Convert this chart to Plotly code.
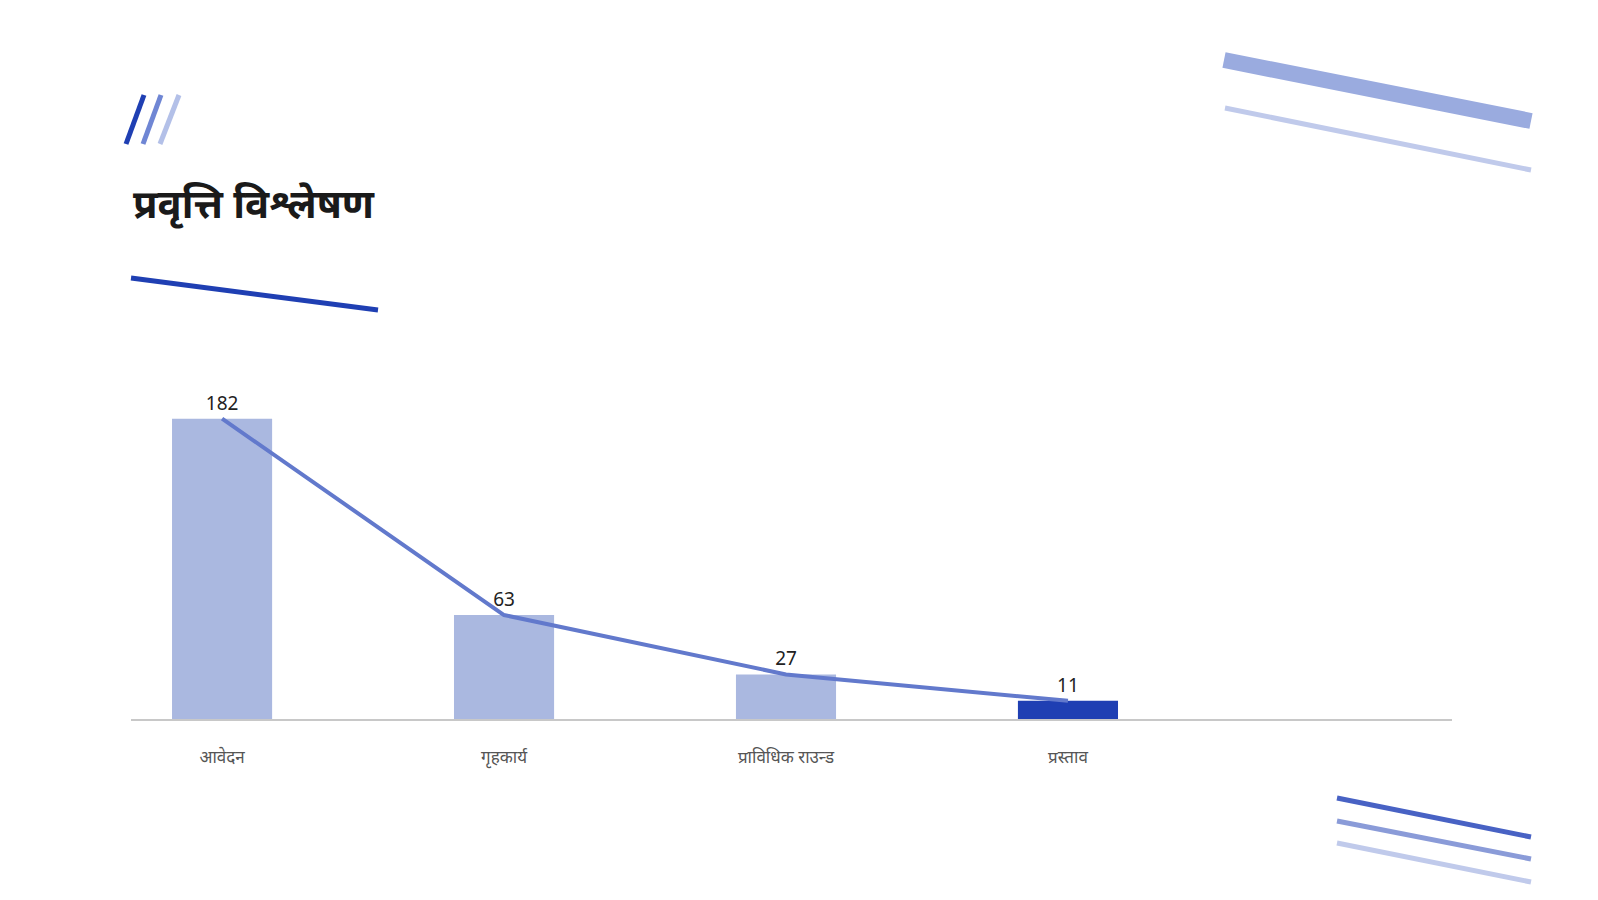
import plotly.graph_objects as go

categories = ["आवेदन", "गृहकार्य", "प्राविधिक राउन्ड", "प्रस्ताव"]
values = [182, 63, 27, 11]
bar_colors = ["#aab8e0", "#aab8e0", "#aab8e0", "#1f3fb3"]

W, H = 1598, 900
L, R, T, B = 123, 1444, 381, 711  # plot area in pixels


def px(x, y):
    return (x - L) / (R - L), (B - y) / (B - T)


fig = go.Figure()
fig.add_trace(go.Bar(
    x=categories, y=values, width=0.355,
    marker=dict(color=bar_colors, line=dict(width=0)),
    text=[str(v) for v in values], textposition="outside",
    textfont=dict(family="Noto Sans", size=19, color="#222222"),
    cliponaxis=False, showlegend=False, hoverinfo="skip",
))
fig.add_trace(go.Scatter(
    x=categories, y=values, mode="lines",
    line=dict(color="#6279cc", width=4), showlegend=False,
))

# decorative strokes (pixel coords -> paper)
strokes = [
    ((118, 136), (136, 87), "#1f3fb3", 5),
    ((135, 136), (153, 87), "#6f86d4", 5),
    ((152, 136), (171, 87), "#b3c0e8", 5),
    ((123, 270), (370, 302), "#1f3fb3", 5),
    ((1216, 52), (1523, 113), "#9aabdf", 16),
    ((1217, 100), (1523, 162), "#c0caeb", 5),
    ((1329, 790), (1523, 829), "#4862c4", 5),
    ((1329, 813), (1523, 851), "#8a9bd8", 5),
    ((1329, 835), (1523, 874), "#c0caeb", 5),
]
for (x0, y0), (x1, y1), c, w in strokes:
    a0, b0 = px(x0, y0)
    a1, b1 = px(x1, y1)
    fig.add_shape(type="line", xref="paper", yref="paper",
                  x0=a0, y0=b0, x1=a1, y1=b1, line=dict(color=c, width=w))

tx, ty = px(123, 195)
fig.add_annotation(xref="paper", yref="paper", x=tx, y=ty, xanchor="left", yanchor="middle",
                   text="<b>प्रवृत्ति विश्लेषण</b>", showarrow=False,
                   font=dict(family="Noto Sans", size=40, color="#1a1a1a"))

fig.update_layout(
    width=W, height=H,
    margin=dict(l=L, r=W - R, t=T, b=H - B),
    paper_bgcolor="white", plot_bgcolor="white",
    xaxis=dict(range=[-0.323, 4.362], showgrid=False, showline=True,
               linecolor="#c8c8c8", linewidth=2, ticks="", ticklabelstandoff=22,
               tickfont=dict(family="Noto Sans", size=17, color="#555555")),
    yaxis=dict(range=[0, 200], visible=False),
)
fig.write_html("out.html")
